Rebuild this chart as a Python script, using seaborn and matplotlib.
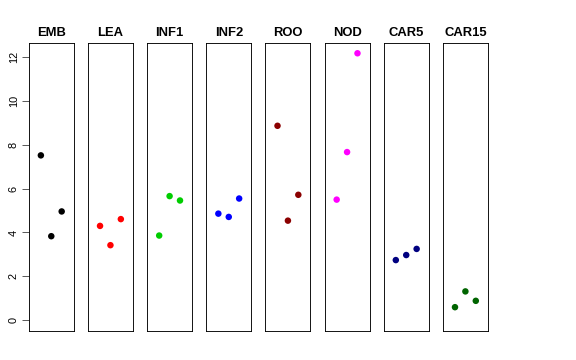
import matplotlib
matplotlib.use("Agg")
import matplotlib.pyplot as plt
import seaborn as sns
import pandas as pd

sns.set_style("white")
plt.rcParams['font.family'] = ['Liberation Sans', 'DejaVu Sans']
plt.rcParams['text.color'] = 'black'
plt.rcParams['ytick.color'] = 'black'
plt.rcParams['ytick.labelcolor'] = 'black'

tissues = ["EMB", "LEA", "INF1", "INF2", "ROO", "NOD", "CAR5", "CAR15"]
colors = ["#000000", "#FF0000", "#00CD00", "#0000FF", "#8B0000", "#FF00FF", "#000080", "#006400"]
reps = [1, 2, 3]
emb = [7.52, 3.83, 4.96]
lea = [4.30, 3.42, 4.61]
inf1 = [3.86, 5.66, 5.46]
inf2 = [4.86, 4.71, 5.55]
roo = [8.87, 4.54, 5.72]
nod = [5.50, 7.67, 12.18]
car5 = [2.74, 2.97, 3.25]
car15 = [0.59, 1.31, 0.88]
values = [emb, lea, inf1, inf2, roo, nod, car5, car15]
yticks = [0, 2, 4, 6, 8, 10, 12]

rows = []
for t, vals in zip(tissues, values):
    for r, v in zip(reps, vals):
        rows.append({"tissue": t, "rep": r, "value": v})
df = pd.DataFrame(rows)

fig, axes = plt.subplots(1, 8, figsize=(8, 5), dpi=72, sharey=True)
fig.subplots_adjust(left=0.050, right=0.847, bottom=0.081, top=0.880, wspace=0.316)

for i, (ax, t, c) in enumerate(zip(axes, tissues, colors)):
    sub = df[df["tissue"] == t]
    sns.scatterplot(data=sub, x="rep", y="value", color=c, s=42, edgecolor="none", ax=ax, legend=False)
    ax.set_xlim(-0.16, 4.16)
    ax.set_ylim(-0.49, 12.64)
    ax.set_xticks([])
    ax.set_xlabel("")
    ax.set_ylabel("")
    ax.set_title(t, fontsize=13, fontweight="bold", pad=7, color="black")
    for sp in ax.spines.values():
        sp.set_visible(True)
        sp.set_color("black")
        sp.set_linewidth(0.9)
    if i == 0:
        ax.set_yticks(yticks)
        ax.set_yticklabels([str(v) for v in yticks], rotation=90, va="center", fontsize=11)
        ax.tick_params(axis="y", left=True, length=7, width=0.8, color="#333333", pad=3)
    else:
        ax.tick_params(axis="y", left=False, labelleft=False)

fig.savefig("out.png", dpi=72)
